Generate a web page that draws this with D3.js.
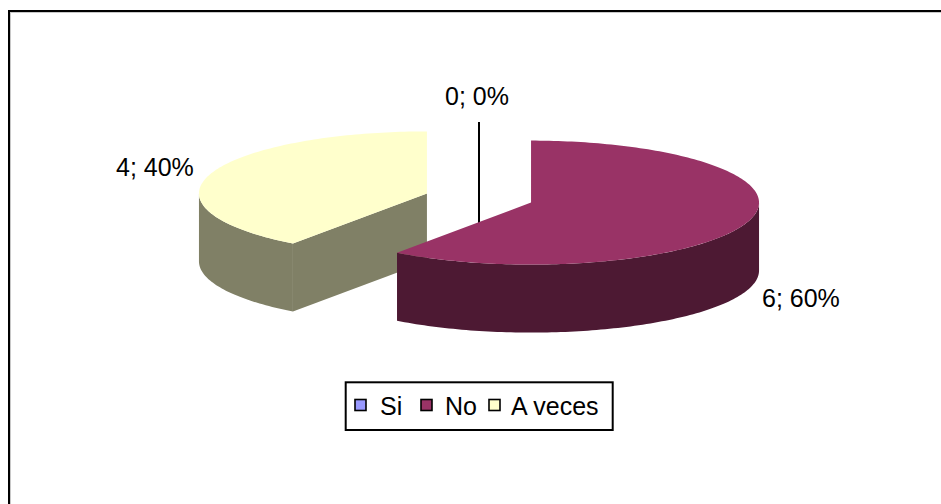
<!DOCTYPE html>
<html><head><meta charset="utf-8">
<script src="https://cdn.jsdelivr.net/npm/d3@7"></script>
<style>
body{margin:0;background:#fff}
svg{display:block}
text{font-family:"Liberation Sans",Arial,sans-serif;fill:#000}
</style>
</head><body>
<svg id="c" width="941" height="504"></svg>
<script>
// ---- data ----
const categories = ["Si", "No", "A veces"];
const values = [0, 6, 4];
const topColors = ["#9999ff", "#993366", "#ffffcc"];
const sideColors = ["#4d4d80", "#4d1933", "#808066"];

// ---- layout ----
const W = 941, H = 504;
const cx = 479, cy = 198, rx = 228, ry = 62, depth = 68, explode = 0.24;
const labelPos = [
  {x: 477, y: 105, anchor: "middle"},
  {x: 762, y: 307, anchor: "start"},
  {x: 116, y: 176, anchor: "start"}
];
const legendMarkX = [355, 421, 489];
const legendTextX = [380, 445, 511];

const svg = d3.select("#c");
svg.append("rect").attr("width", W).attr("height", H).attr("fill", "#fff");

// chart frame
svg.append("rect").attr("x", 9).attr("y", 11).attr("width", 1000).attr("height", 1000)
  .attr("fill", "none").attr("stroke", "#000").attr("stroke-width", 2);
svg.append("rect").attr("x", 10.5).attr("y", 12.5).attr("width", 1000).attr("height", 1000)
  .attr("fill", "none").attr("stroke", "#c8c8c8").attr("stroke-width", 1);

const total = d3.sum(values);
const pct = d3.format(".0%");
const arcs = d3.pie().sort(null).value(d => d)(values);
const color = d3.scaleOrdinal().domain(categories).range(topColors);
const side = d3.scaleOrdinal().domain(categories).range(sideColors);

const sx = d3.scaleLinear().domain([-1, 1]).range([-rx, rx]);
const sy = d3.scaleLinear().domain([-1, 1]).range([-ry, ry]);

function pt(o, a, dy) {
  return [o[0] + sx(Math.sin(a)), o[1] - sy(Math.cos(a)) + (dy || 0)];
}
function arcPts(o, a0, a1, dy) {
  const n = Math.max(2, Math.ceil(Math.abs(a1 - a0) / 0.02));
  return d3.range(n + 1).map(i => pt(o, a0 + (a1 - a0) * i / n, dy));
}
const line = d3.line();

const slices = arcs.map((a, i) => {
  const mid = (a.startAngle + a.endAngle) / 2;
  const o = [cx + explode * sx(Math.sin(mid)), cy - explode * sy(Math.cos(mid))];
  return {a, i, o};
});

// leader line for zero slice (drawn behind slices)
slices.filter(s => s.a.value === 0).forEach(s => {
  svg.append("line").attr("x1", s.o[0]).attr("x2", s.o[0])
    .attr("y1", labelPos[s.i].y + 17).attr("y2", cy + 40)
    .attr("stroke", "#000").attr("stroke-width", 2);
});

const g = svg.append("g");
const drawn = slices.filter(s => s.a.value > 0).sort((p, q) => p.o[1] - q.o[1]);
drawn.forEach(s => {
  const {a, i, o} = s;
  const s0 = a.startAngle, e0 = a.endAngle;
  const st = {stroke: "#000", "stroke-width": 2, "stroke-linejoin": "round"};
  const sg = g.append("g");
  if (Math.sin(s0) < -1e-6) {
    const pts = [o, pt(o, s0), pt(o, s0, depth), [o[0], o[1] + depth]];
    sg.append("path").attr("d", line(pts) + "Z").attr("fill", side(categories[i])).attr(st);
  }
  if (Math.sin(e0) > 1e-6) {
    const pts = [o, pt(o, e0), pt(o, e0, depth), [o[0], o[1] + depth]];
    sg.append("path").attr("d", line(pts) + "Z").attr("fill", side(categories[i])).attr(st);
  }
  const ws = Math.max(s0, Math.PI / 2), we = Math.min(e0, 3 * Math.PI / 2);
  if (ws < we) {
    const pts = arcPts(o, ws, we, 0).concat(arcPts(o, we, ws, depth));
    sg.append("path").attr("d", line(pts) + "Z").attr("fill", side(categories[i])).attr(st);
  }
  const tp = [o].concat(arcPts(o, s0, e0, 0));
  sg.append("path").attr("d", line(tp) + "Z").attr("fill", color(categories[i])).attr(st);
});

// data labels
slices.forEach(s => {
  const lp = labelPos[s.i];
  svg.append("text").attr("x", lp.x).attr("y", lp.y).attr("text-anchor", lp.anchor)
    .attr("font-size", 25).text(values[s.i] + "; " + pct(values[s.i] / total));
});

// legend
svg.append("rect").attr("x", 345.7).attr("y", 382.3).attr("width", 267).attr("height", 47.7)
  .attr("fill", "#fff").attr("stroke", "#000").attr("stroke-width", 2);
categories.forEach((c, i) => {
  svg.append("rect").attr("x", legendMarkX[i]).attr("y", 399.5).attr("width", 11).attr("height", 11)
    .attr("fill", color(c)).attr("stroke", "#000").attr("stroke-width", 1.6);
  svg.append("text").attr("x", legendTextX[i]).attr("y", 415).attr("font-size", 25).text(c);
});
</script>
</body></html>
